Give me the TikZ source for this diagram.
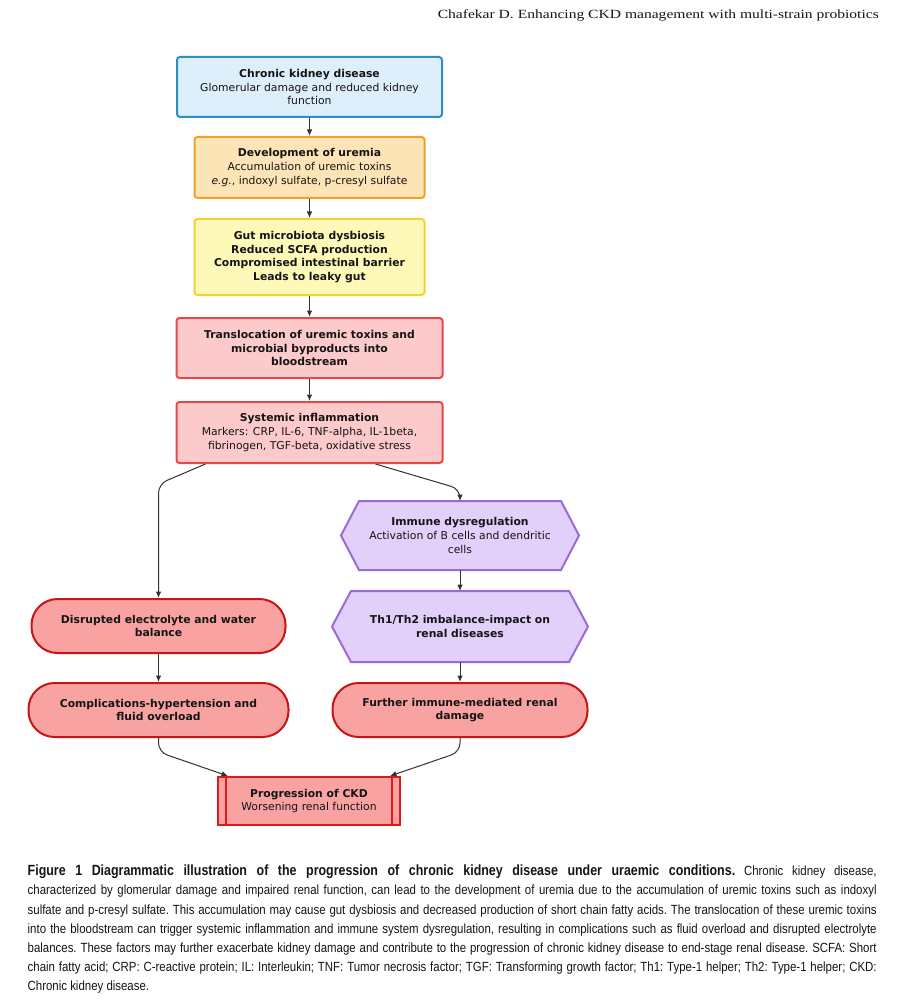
\documentclass[tikz,border=0pt]{standalone}
\usepackage{fontspec}
\usepackage{graphicx}
\setmainfont{DejaVu Sans}
\newfontfamily\capfont[FakeStretch=0.86]{Liberation Sans}
\newfontfamily\capbfont[FakeStretch=0.84]{Liberation Sans}
\newfontfamily\headfont{Liberation Serif}
\usetikzlibrary{arrows.meta,backgrounds,calc}
\definecolor{blueF}{HTML}{DDEFFB}
\definecolor{blueD}{HTML}{2E8CCB}
\definecolor{orF}{HTML}{FDE4B6}
\definecolor{orD}{HTML}{F4A024}
\definecolor{yeF}{HTML}{FEF8B9}
\definecolor{yeD}{HTML}{F3D12E}
\definecolor{piF}{HTML}{FCCACA}
\definecolor{piD}{HTML}{E84848}
\definecolor{puF}{HTML}{E3D0FA}
\definecolor{puD}{HTML}{9B6BD3}
\definecolor{reF}{HTML}{F8A2A2}
\definecolor{reD}{HTML}{C81414}
\definecolor{prD}{HTML}{E01A1A}
\definecolor{lineC}{HTML}{333333}
\definecolor{txt}{HTML}{151515}
\begin{document}
\begin{tikzpicture}[x=1pt,y=-1pt,
  box/.style={line width=2pt, rounded corners=3pt, align=center, inner sep=0pt,
    font=\fontsize{10.8}{13.7}\selectfont, text=txt},
  rbox/.style={box, draw=piD, fill=piF},
  stad/.style={box, draw=reD, fill=reF, rounded corners=26pt},
  hexnode/.style={box, rounded corners=0pt},
  hexdraw/.style={line width=2pt, draw=puD, fill=puF, line join=miter},
  arr/.style={line width=1pt, draw=lineC, -{Latex[length=6.5pt,width=5.5pt]}},
  capline/.style={anchor=base west, inner sep=0pt, font=\capfont\frenchspacing\fontsize{13.3}{19.2}\selectfont, text=txt}
]
\useasboundingbox (0,0) rectangle (910,1000);
\begin{scope}[on background layer]
\fill[white] (0,0) rectangle (910,1000);
\end{scope}

% header
\node[anchor=base east, inner sep=0pt, font=\headfont\fontsize{12.5}{14}\selectfont, text=txt] (hdr) at (879,18.5)
  {\resizebox{441pt}{\height}{Chafekar D. Enhancing CKD management with multi-strain probiotics}};

% main column
\node[box, draw=blueD, fill=blueF, minimum width=265pt, minimum height=60pt] (ckd) at (309.5,87)
  {\textbf{Chronic kidney disease}\\Glomerular damage and reduced kidney\\function};
\node[box, draw=orD, fill=orF, minimum width=230pt, minimum height=61pt] (ure) at (309.5,167.5)
  {\textbf{Development of uremia}\\Accumulation of uremic toxins\\\textit{e.g.}, indoxyl sulfate, p-cresyl sulfate};
\node[box, draw=yeD, fill=yeF, minimum width=230pt, minimum height=76pt] (gut) at (309.5,257)
  {\textbf{Gut microbiota dysbiosis}\\\textbf{Reduced SCFA production}\\\textbf{Compromised intestinal barrier}\\\textbf{Leads to leaky gut}};
\node[rbox, minimum width=266pt, minimum height=60pt] (trans) at (309.5,348)
  {\textbf{Translocation of uremic toxins and}\\\textbf{microbial byproducts into}\\\textbf{bloodstream}};
\node[rbox, minimum width=266pt, minimum height=61pt] (sys) at (309.5,432.5)
  {\textbf{Systemic inflammation}\\Markers: CRP, IL-6, TNF-alpha, IL-1beta,\\fibrinogen, TGF-beta, oxidative stress};

% right branch (hexagons)
\node[hexnode, minimum width=236pt, minimum height=67pt] (imm) at (460,535.5)
  {\textbf{Immune dysregulation}\\Activation of B cells and dendritic\\cells};
\node[hexnode, minimum width=254pt, minimum height=69pt] (th) at (460,626.5)
  {\textbf{Th1/Th2 imbalance-impact on}\\\textbf{renal diseases}};
\begin{scope}[on background layer]
  \draw[hexdraw] (imm.west) -- ([xshift=18pt]imm.north west) -- ([xshift=-18pt]imm.north east)
    -- (imm.east) -- ([xshift=-18pt]imm.south east) -- ([xshift=18pt]imm.south west) -- cycle;
  \draw[hexdraw] (th.west) -- ([xshift=19pt]th.north west) -- ([xshift=-19pt]th.north east)
    -- (th.east) -- ([xshift=-19pt]th.south east) -- ([xshift=19pt]th.south west) -- cycle;
\end{scope}

% stadiums
\node[stad, minimum width=254pt, minimum height=54pt] (dis) at (158.5,626)
  {\textbf{Disrupted electrolyte and water}\\\textbf{balance}};
\node[stad, minimum width=260pt, minimum height=54pt] (comp) at (158.5,710)
  {\textbf{Complications-hypertension and}\\\textbf{fluid overload}};
\node[stad, minimum width=255pt, minimum height=54pt] (fur) at (460,710)
  {\textbf{Further immune-mediated renal}\\\textbf{damage}};

% progression
\node[box, rounded corners=0pt, draw=prD, fill=reF, minimum width=182pt, minimum height=48pt] (prog) at (309,801)
  {\textbf{Progression of CKD}\\Worsening renal function};
\draw[line width=2pt, draw=prD] ([xshift=9pt]prog.north west) -- ([xshift=9pt]prog.south west);
\draw[line width=2pt, draw=prD] ([xshift=-9pt]prog.north east) -- ([xshift=-9pt]prog.south east);

% connectors
\coordinate (k1) at (158.5,484);
\coordinate (k2) at (460,489);
\coordinate (k3) at (158.5,752);
\coordinate (k4) at (460,752);
\draw[arr] (ckd.south) -- (ure.north);
\draw[arr] (ure.south) -- (gut.north);
\draw[arr] (gut.south) -- (trans.north);
\draw[arr] (trans.south) -- (sys.north);
\draw[arr, rounded corners=9pt] ([xshift=-104pt]sys.south) -- (k1) -- (dis.north);
\draw[arr, rounded corners=9pt] ([xshift=66pt]sys.south) -- (k2) -- (imm.north);
\draw[arr] (imm.south) -- (th.north);
\draw[arr] (dis.south) -- (comp.north);
\draw[arr] (th.south) -- (fur.north);
\draw[arr, rounded corners=9pt] (comp.south) -- (k3) -- ([xshift=-81pt]prog.north);
\draw[arr, rounded corners=9pt] (fur.south) -- (k4) -- ([xshift=81pt]prog.north);

% caption
\node[capline] (cap1) at (27.5,875.7) {\makebox[849pt][s]{{\capbfont\bfseries\fontsize{14.8}{19.2}\selectfont Figure 1 Diagrammatic illustration of the progression of chronic kidney disease under uraemic conditions.} Chronic kidney disease,}};
\node[capline] (cap2) at (27.5,894.9) {\makebox[849pt][s]{characterized by glomerular damage and impaired renal function, can lead to the development of uremia due to the accumulation of uremic toxins such as indoxyl}};
\node[capline] (cap3) at (27.5,914.1) {\makebox[849pt][s]{sulfate and p-cresyl sulfate. This accumulation may cause gut dysbiosis and decreased production of short chain fatty acids. The translocation of these uremic toxins}};
\node[capline] (cap4) at (27.5,933.3) {\makebox[849pt][s]{into the bloodstream can trigger systemic inflammation and immune system dysregulation, resulting in complications such as fluid overload and disrupted electrolyte}};
\node[capline] (cap5) at (27.5,952.5) {\makebox[849pt][s]{balances. These factors may further exacerbate kidney damage and contribute to the progression of chronic kidney disease to end-stage renal disease. SCFA: Short}};
\node[capline] (cap6) at (27.5,971.7) {\makebox[849pt][s]{chain fatty acid; CRP: C-reactive protein; IL: Interleukin; TNF: Tumor necrosis factor; TGF: Transforming growth factor; Th1: Type-1 helper; Th2: Type-1 helper; CKD:}};
\node[capline] (cap7) at (27.5,990.5) {Chronic kidney disease.};
\end{tikzpicture}
\end{document}
